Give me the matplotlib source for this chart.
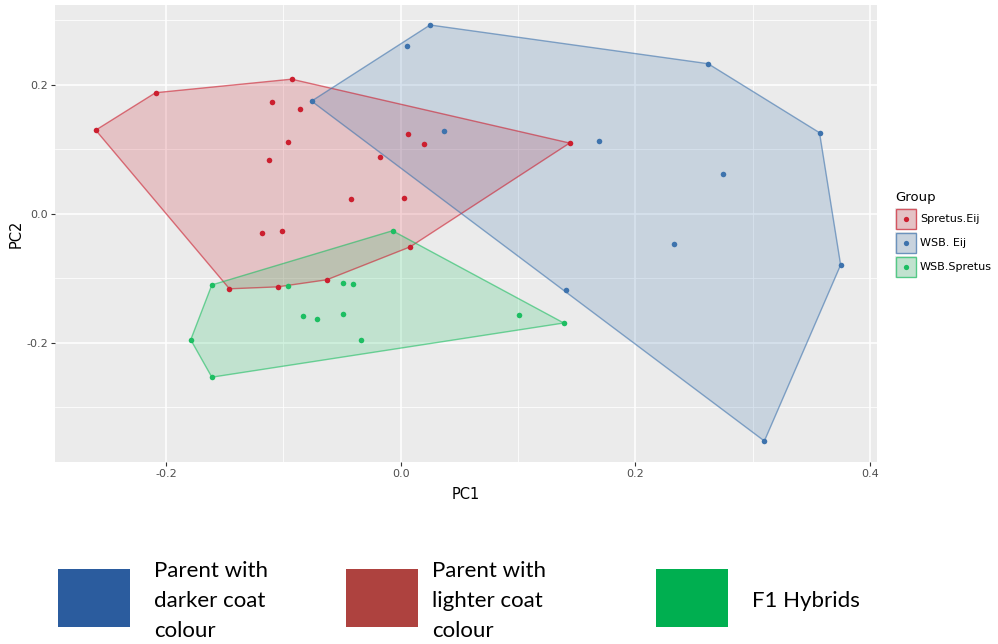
import numpy as np
import matplotlib
matplotlib.use("Agg")
import matplotlib.pyplot as plt
from matplotlib.patches import Rectangle
from matplotlib.lines import Line2D

# PCA scores
spretus_pc1 = [-0.260, -0.209, -0.093, 0.144, 0.008, -0.063, -0.105, -0.146,
               -0.110, -0.086, -0.096, -0.112, -0.018, 0.006, 0.020, -0.042,
               0.003, -0.118, -0.101]
spretus_pc2 = [0.130, 0.188, 0.209, 0.110, -0.051, -0.102, -0.113, -0.116,
               0.174, 0.163, 0.112, 0.084, 0.088, 0.124, 0.109, 0.023,
               0.025, -0.029, -0.026]

wsb_eij_pc1 = [-0.076, 0.025, 0.262, 0.357, 0.375, 0.310, 0.141,
               0.005, 0.037, 0.169, 0.275, 0.233]
wsb_eij_pc2 = [0.175, 0.293, 0.233, 0.126, -0.079, -0.352, -0.118,
               0.260, 0.129, 0.113, 0.062, -0.047]

wsb_spretus_pc1 = [-0.007, 0.139, -0.161, -0.179, -0.161,
                   -0.096, -0.049, -0.041, -0.083, -0.071, -0.049, -0.034, 0.101]
wsb_spretus_pc2 = [-0.026, -0.169, -0.253, -0.195, -0.110,
                   -0.112, -0.107, -0.109, -0.158, -0.163, -0.155, -0.196, -0.157]

groups = ["Spretus.Eij", "WSB. Eij", "WSB.Spretus"]
group_colors = ["#CC1F2F", "#3E73AD", "#1DBE62"]

bottom_labels = ["Parent with\ndarker coat\ncolour", "Parent with\nlighter coat\ncolour", "F1 Hybrids"]
bottom_colors = ["#2B5C9E", "#AE423F", "#00AF50"]


def convex_hull(xs, ys):
    pts = sorted(set(zip(xs, ys)))

    def cross(o, a, b):
        return (a[0] - o[0]) * (b[1] - o[1]) - (a[1] - o[1]) * (b[0] - o[0])

    lower, upper = [], []
    for p in pts:
        while len(lower) >= 2 and cross(lower[-2], lower[-1], p) <= 0:
            lower.pop()
        lower.append(p)
    for p in reversed(pts):
        while len(upper) >= 2 and cross(upper[-2], upper[-1], p) <= 0:
            upper.pop()
        upper.append(p)
    return np.array(lower[:-1] + upper[:-1])


fig = plt.figure(figsize=(9.98, 6.44), dpi=100)
W, H = 998, 644
ax = fig.add_axes([55 / W, 1 - 462 / H, (877 - 55) / W, (462 - 5) / H])
ax.set_facecolor("#EBEBEB")

data = [(spretus_pc1, spretus_pc2), (wsb_eij_pc1, wsb_eij_pc2), (wsb_spretus_pc1, wsb_spretus_pc2)]
for (xs, ys), name, col in zip(data, groups, group_colors):
    hull = convex_hull(xs, ys)
    ax.fill(hull[:, 0], hull[:, 1], facecolor=col, alpha=0.2, edgecolor="none", zorder=2)
    ax.fill(hull[:, 0], hull[:, 1], facecolor="none", edgecolor=col, alpha=0.6, lw=1.0, zorder=3)
    ax.scatter(xs, ys, s=16, color=col, zorder=4, linewidths=0)

ax.set_xlim(-0.2947, 0.406)
ax.set_ylim(-0.3845, 0.324)
ax.set_xticks([-0.2, 0.0, 0.2, 0.4])
ax.set_xticklabels(["-0.2", "0.0", "0.2", "0.4"])
ax.set_yticks([-0.2, 0.0, 0.2])
ax.set_yticklabels(["-0.2", "0.0", "0.2"])
ax.set_xticks([-0.1, 0.1, 0.3], minor=True)
ax.set_yticks([-0.3, -0.1, 0.1, 0.3], minor=True)
ax.grid(which="major", color="white", lw=1.1, zorder=0)
ax.grid(which="minor", color="white", lw=0.55, zorder=0)
ax.set_axisbelow(True)
for s in ax.spines.values():
    s.set_visible(False)
ax.tick_params(which="major", length=3, width=0.8, color="#333333", labelsize=8, labelcolor="#4D4D4D", pad=2)
ax.tick_params(which="minor", length=0)
ax.set_xlabel("PC1", fontsize=10.5, labelpad=6)
ax.set_ylabel("PC2", fontsize=10.5, labelpad=2)

# group legend on the right, ggplot style keys
tr = fig.transFigure
fig.text(895 / W, 1 - 198 / H, "Group", fontsize=9.5, ha="left", va="center", color="black")
for i, (name, col) in enumerate(zip(groups, group_colors)):
    top = 208 + i * 24
    fig.patches.append(Rectangle((895 / W, 1 - (top + 22) / H), 22 / W, 22 / H, transform=tr,
                                 facecolor="#EBEBEB", edgecolor="none"))
    fig.patches.append(Rectangle((896 / W, 1 - (top + 21) / H), 20 / W, 20 / H, transform=tr,
                                 facecolor=matplotlib.colors.to_rgba(col, 0.2),
                                 edgecolor=matplotlib.colors.to_rgba(col, 0.7), lw=1.0))
    fig.lines.append(Line2D([906 / W], [1 - (top + 11) / H], transform=tr, marker="o",
                            ls="none", color=col, markersize=3.8, markeredgewidth=0))
    fig.text(920 / W, 1 - (top + 11) / H, name, fontsize=8, ha="left", va="center", color="black")

# legend below the chart
box_x = [58, 346, 656]
text_x = [154, 432, 752]
for bx, tx, lab, col in zip(box_x, text_x, bottom_labels, bottom_colors):
    fig.patches.append(Rectangle((bx / W, 1 - 627 / H), 72 / W, 58 / H,
                                 transform=tr, facecolor=col, edgecolor="none"))
    if "\n" in lab:
        fig.text(tx / W, 1 - 561 / H, lab, ha="left", va="top", fontsize=16,
                 family="Lato", linespacing=1.62, color="black")
    else:
        fig.text(tx / W, 1 - 601 / H, lab, ha="left", va="center", fontsize=16,
                 family="Lato", color="black")

fig.savefig("out.png", dpi=100, facecolor="white")
